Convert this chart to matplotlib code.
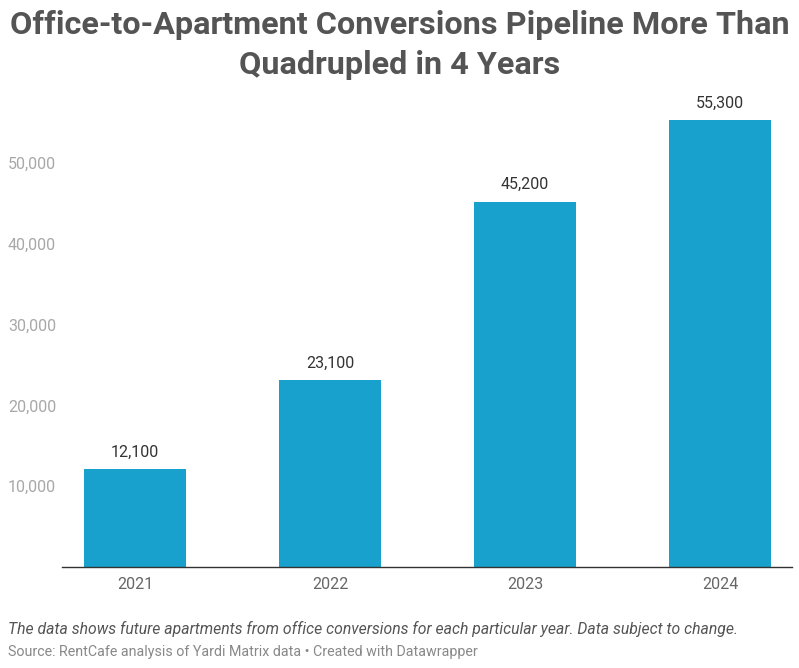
import matplotlib
matplotlib.use("Agg")
import matplotlib.pyplot as plt
from matplotlib.ticker import FuncFormatter

plt.rcParams['font.family'] = ['Roboto', 'DejaVu Sans']

# data
years = ['2021', '2022', '2023', '2024']
units = [12100, 23100, 45200, 55300]
y_ticks = [10000, 20000, 30000, 40000, 50000]

BAR_COLOR = '#18a1cd'
TEXT_DARK = '#333333'
TEXT_GREY = '#a8a8a8'

fig = plt.figure(figsize=(7.99, 6.68), dpi=100)
W, H = 799, 668

# axes placed in pixel terms: line from x=62 to 792, baseline y=567
ax_left, ax_right = 62, 792
ax_bottom, ax_top = 567, 95
ax = fig.add_axes([ax_left / W, 1 - ax_bottom / H,
                   (ax_right - ax_left) / W, (ax_bottom - ax_top) / H])

x = list(range(len(years)))
bars = ax.bar(x, units, width=0.523, color=BAR_COLOR, zorder=2)

# slot 195 px, first centre at 135 px
ax.set_xlim((ax_left - 135) / 195, (ax_right - 135) / 195)
ymax = (ax_bottom - ax_top) / 80.8 * 10000
ax.set_ylim(0, ymax)

for rect, v in zip(bars, units):
    ax.annotate(f"{v:,}", (rect.get_x() + rect.get_width() / 2, v),
                xytext=(0, 7), textcoords='offset points',
                ha='center', va='bottom', fontsize=11.5, color=TEXT_DARK)

ax.set_xticks(x)
ax.set_xticklabels(years)
ax.set_yticks(y_ticks)
ax.yaxis.set_major_formatter(FuncFormatter(lambda v, p: f"{int(v):,}"))
ax.tick_params(axis='x', length=0, pad=7, labelsize=11.5, labelcolor='#666666')
ax.tick_params(axis='y', length=0, pad=0, labelsize=11.5, labelcolor=TEXT_GREY)
for lab in ax.get_yticklabels():
    lab.set_horizontalalignment('left')
    lab.set_transform(lab.get_transform() + matplotlib.transforms.ScaledTranslation(
        -54 / 100, 0, fig.dpi_scale_trans))

for s in ['top', 'right', 'left']:
    ax.spines[s].set_visible(False)
ax.spines['bottom'].set_color('#333333')
ax.spines['bottom'].set_linewidth(1.0)
ax.spines['bottom'].set_zorder(3)

fig.text(0.5, 1 - 25 / H, "Office-to-Apartment Conversions Pipeline More Than",
         ha='center', va='center', fontsize=23.3, fontweight='bold', color='#545454')
fig.text(0.5, 1 - 65 / H, "Quadrupled in 4 Years",
         ha='center', va='center', fontsize=23.3, fontweight='bold', color='#545454')

fig.text(8 / W, 1 - 629 / H,
         "The data shows future apartments from office conversions for each particular year. Data subject to change.",
         ha='left', va='center', fontsize=11.3, style='italic', color='#555555')
fig.text(8 / W, 1 - 652 / H,
         "Source: RentCafe analysis of Yardi Matrix data \u2022 Created with Datawrapper",
         ha='left', va='center', fontsize=10.25, color='#888888')

fig.savefig('out.png', dpi=100)
